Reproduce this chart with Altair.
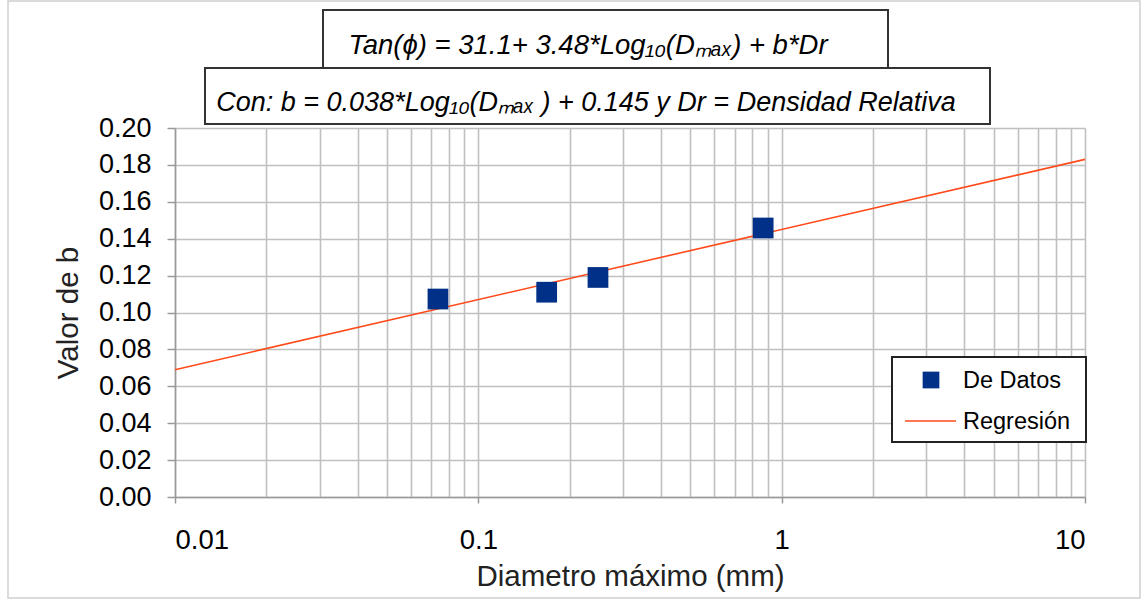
import altair as alt
import pandas as pd

# data
diam = [0.0736, 0.168, 0.248, 0.869]
bval = [0.1073, 0.111, 0.119, 0.1458]
reg_x = [0.01, 10]
reg_y = [0.069, 0.183]
x_ticks = [0.01, 0.02, 0.03, 0.04, 0.05, 0.06, 0.07, 0.08, 0.09,
           0.1, 0.2, 0.3, 0.4, 0.5, 0.6, 0.7, 0.8, 0.9,
           1, 2, 3, 4, 5, 6, 7, 8, 9, 10]
major = [0.01, 0.1, 1, 10]
y_ticks = [0, 0.02, 0.04, 0.06, 0.08, 0.10, 0.12, 0.14, 0.16, 0.18, 0.20]
eq1 = "Tan(ϕ) = 31.1+ 3.48*Log₁₀(Dₘₐₓ)  + b*Dr"
eq2 = "Con:  b = 0.038*Log₁₀(Dₘₐₓ ) + 0.145 y Dr = Densidad Relativa"
legend_labels = ["De Datos", "Regresión"]

W, H = 910, 369
FONT = "Liberation Sans"

pts = pd.DataFrame({"d": diam, "b": bval})
reg = pd.DataFrame({"d": reg_x, "b": reg_y})
one = pd.DataFrame({"a": [0]})

major_expr = "indexof([0.01,0.1,1,10], datum.value) >= 0"

xscale = alt.Scale(type="log", domain=[0.01, 10])
yscale = alt.Scale(domain=[0, 0.2], nice=False)
xaxis = alt.Axis(values=x_ticks, title="Diametro máximo (mm)",
                 labelExpr=f"{major_expr} ? datum.label : ''", format="~g",
                 labelOverlap=False, labelFontSize=27.5,
                 tickSize=6, labelPadding=23, titlePadding=9,
                 tickOpacity={"condition": {"test": major_expr, "value": 1}, "value": 0})
yaxis = alt.Axis(values=y_ticks, format=".2f", title="Valor de b",
                 labelOverlap=False, labelFontSize=27, tickCount=11,
                 tickSize=8, labelPadding=16, titlePadding=15)

xenc = alt.X("d:Q", scale=xscale, axis=xaxis)
yenc = alt.Y("b:Q", scale=yscale, axis=yaxis)

line = alt.Chart(reg).mark_line(color="#ff4a1a", strokeWidth=1.6).encode(x=xenc, y=yenc)
points = alt.Chart(pts).mark_square(size=430, color="#003087", opacity=1).encode(x=xenc, y=yenc)

def rect(x1, x2, y1, y2, stroke, sw, fill="white"):
    return alt.Chart(one).mark_rect(fill=fill, stroke=stroke, strokeWidth=sw).encode(
        x=alt.value(x1), x2=alt.value(x2), y=alt.value(y1), y2=alt.value(y2))

def text(s, x, y, size=22, italic=False, align="left"):
    return alt.Chart(one).mark_text(text=s, font=FONT, fontSize=size,
                                    fontStyle="italic" if italic else "normal",
                                    align=align, baseline="middle", color="black").encode(
        x=alt.value(x), y=alt.value(y))

outer = alt.Chart(one).mark_rect(fill="transparent", stroke="#d0d0d0", strokeWidth=1.5).encode(
    x=alt.value(-167), x2=alt.value(965), y=alt.value(-127), y2=alt.value(101 + H))

box1 = rect(148, 713, -118, -60, "#333333", 2)
box2 = rect(30, 815, -60, -4, "#333333", 2)
t1 = text(eq1, 413, -82, size=27.5, italic=True, align="center")
t2 = text(eq2, 411, -25, size=27, italic=True, align="center")

leg_box = rect(717, 911, 229, 314, "#222222", 2)
leg_sq = alt.Chart(one).mark_square(size=280, color="#003087", opacity=1).encode(
    x=alt.value(756), y=alt.value(252))
leg_line = alt.Chart(one).mark_rule(color="#ff4a1a", strokeWidth=1.6).encode(
    x=alt.value(730), x2=alt.value(781), y=alt.value(293))
leg_t1 = text(legend_labels[0], 788, 253, size=23.5)
leg_t2 = text(legend_labels[1], 788, 294, size=23.5)

chart = alt.layer(
    outer, line, points, box1, box2, t1, t2, leg_box, leg_sq, leg_line, leg_t1, leg_t2
).properties(
    width=W, height=H,
    autosize=alt.AutoSizeParams(type="none"),
    padding={"left": 175, "top": 128, "right": 60, "bottom": 103},
    background="white",
).configure_view(stroke=None).configure_axis(
    labelFont=FONT, titleFont=FONT, labelFontSize=27, titleFontSize=29.5,
    titleFontWeight="normal", labelColor="black", titleColor="#222222",
    gridColor="#c0c0c0", gridWidth=1.6, domainColor="#999999", domainWidth=1.5,
    tickColor="#999999", tickWidth=1.5,
)

chart.save("out.html", embed_options={"renderer": "svg", "actions": False})
